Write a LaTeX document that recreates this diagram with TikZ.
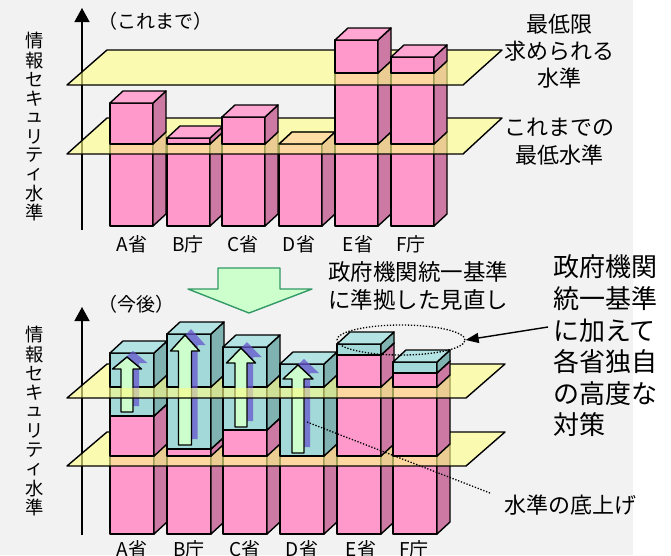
\documentclass[tikz,border=0pt]{standalone}
\usepackage{fontspec}
\setmainfont{Noto Sans CJK JP}
\usetikzlibrary{arrows.meta,shapes.geometric}
\definecolor{pkF}{HTML}{FF99CC}
\definecolor{pkS}{HTML}{CC7AA3}
\definecolor{pkT}{HTML}{FFA6D3}
\definecolor{tlF}{HTML}{A3D9D9}
\definecolor{tlS}{HTML}{80B2B2}
\definecolor{tlT}{HTML}{B3E3E3}
\definecolor{grA}{HTML}{CCFFCC}
\definecolor{grL}{HTML}{339966}
\definecolor{plY}{HTML}{FFFF88}
\definecolor{prp}{HTML}{6655CC}
\definecolor{bgG}{HTML}{F2F2F2}
\def\dpx{13}\def\dpy{12}
\newcommand\blk[7]{%
  \filldraw[bx,fill=#5] (#1,#3) rectangle ({#1+#2},#4);
  \filldraw[bx,fill=#6] ({#1+#2},#3) -- ++(\dpx,-\dpy) -- ({#1+#2+\dpx},{#4-\dpy}) -- ({#1+#2},#4) -- cycle;
  \filldraw[bx,fill=#7] (#1,#4) -- ++(\dpx,-\dpy) -- ({#1+#2+\dpx},{#4-\dpy}) -- ({#1+#2},#4) -- cycle;
}
\newcommand\pk[4]{\blk{#1}{#2}{#3}{#4}{pkF}{pkS}{pkT}}
\newcommand\tl[4]{\blk{#1}{#2}{#3}{#4}{tlF}{tlS}{tlT}}
% cx, ybottom, ytip, yheadbase, shaft half width, head half width
\newcommand\uparr[6]{%
  \fill[prp,fill opacity=0.75] ({#1-#5+6},{#2-6}) -- ({#1-#5+6},{#4-6}) -- ({#1-#6+6},{#4-6}) -- ({#1+6},{#3-6}) -- ({#1+#6+6},{#4-6}) -- ({#1+#5+6},{#4-6}) -- ({#1+#5+6},{#2-6}) -- cycle;
  \filldraw[bx,fill=grA] ({#1-#5},#2) -- ({#1-#5},#4) -- ({#1-#6},#4) -- (#1,#3) -- ({#1+#6},#4) -- ({#1+#5},#4) -- ({#1+#5},#2) -- cycle;
}
\newcommand\allarrows{%
  \uparr{127}{412}{357}{369}{6}{14.5}
  \uparr{185}{445}{335}{351}{6.5}{14.5}
  \uparr{241}{427}{348}{363}{6}{14.5}
  \uparr{298}{453}{365}{379}{6}{15}
}
\begin{document}
\begin{tikzpicture}[x=1pt,y=-1pt,
  bx/.style={draw=black,line width=1.4pt,line join=round},
  pln/.style={draw=black,line width=1.4pt,line join=round,fill=plY,fill opacity=0.62},
  vch/.style={inner sep=0pt,font=\fontsize{18.3}{18.3}\selectfont},
  blab/.style={inner sep=0pt,font=\fontsize{19}{20}\selectfont},
  axis/.style={line width=1.4pt,-{Triangle[length=14pt,width=15pt]}},
  dots/.style={line width=1.3pt,dash pattern=on 1.3pt off 1.7pt}]
\useasboundingbox (0,0) rectangle (671,555);
\fill[bgG] (0,0) rectangle (633,555);
% ---------- top chart ----------
\coordinate (ax1b) at (82,230); \coordinate (ax1t) at (82,8);
\draw[axis] (ax1b) -- (ax1t);
\node[anchor=west,inner sep=0pt,font=\fontsize{19}{20}\selectfont] (t1) at (98,21) {（これまで）};
\foreach \c [count=\i from 0] in {情,報,セ,キ,ュ,リ,テ,ィ,水,準}
  {\node[vch] (va\i) at (35,{41+19.1*\i}) {\c};}
\foreach \x in {110,167,222,279,335,391} {\pk{\x}{43}{226}{144}}
\filldraw[pln] (67,154) -- (107,118) -- (502,118) -- (463,154) -- cycle;
\draw[bx] (279,144) -- ++(13,-12) -- ++(43,0) -- (322,144) -- cycle;
\pk{110}{43}{144}{103}
\pk{167}{43}{144}{138}
\pk{222}{43}{144}{117}
\pk{335}{43}{144}{73}
\pk{391}{43}{144}{73}
\filldraw[pln] (67,85) -- (107,50) -- (502,50) -- (463,85) -- cycle;
\pk{335}{43}{73}{40}
\pk{391}{43}{73}{57}
\node[blab] (la1) at (132,244) {A省};
\node[blab] (lb1) at (188,244) {B庁};
\node[blab] (lc1) at (243,244) {C省};
\node[blab] (ld1) at (299,244) {D省};
\node[blab] (le1) at (358,244) {E省};
\node[blab] (lf1) at (411,244) {F庁};
\node[align=center,inner sep=0pt,font=\fontsize{22}{27}\selectfont] (r1) at (559,51) {最低限\\求められる\\水準};
\node[align=center,inner sep=0pt,font=\fontsize{22}{28}\selectfont] (r2) at (559,142) {これまでの\\最低水準};
% ---------- big arrow ----------
\filldraw[fill=grA,draw=grL,line width=1.4pt,line join=round] (218,268) -- (280,268) -- (280,289) -- (312,289) -- (249,313) -- (188,289) -- (218,289) -- cycle;
\node[anchor=west,align=left,inner sep=0pt,font=\fontsize{22.5}{28}\selectfont] (m1) at (328,286) {政府機関統一基準\\に準拠した見直し};
% ---------- bottom chart ----------
\coordinate (ax2b) at (82,535); \coordinate (ax2t) at (82,307);
\draw[axis] (ax2b) -- (ax2t);
\node[anchor=west,inner sep=0pt,font=\fontsize{19}{20}\selectfont] (t2) at (98,304) {（今後）};
\foreach \c [count=\i from 0] in {情,報,セ,キ,ュ,リ,テ,ィ,水,準}
  {\node[vch] (vb\i) at (35,{335+19.2*\i}) {\c};}
\foreach \x in {110,167,223,280,337,393} {\pk{\x}{44}{534}{456}}
\filldraw[pln] (67,466) -- (107,432) -- (505,432) -- (466,466) -- cycle;
\pk{110}{44}{456}{416}\tl{110}{44}{416}{387}
\pk{167}{44}{456}{449}\tl{167}{44}{449}{387}
\pk{223}{44}{456}{430}\tl{223}{44}{430}{387}
\tl{280}{44}{456}{387}
\pk{337}{44}{456}{387}
\pk{393}{44}{456}{387}
\allarrows
\filldraw[pln] (67,398) -- (107,364) -- (505,364) -- (466,398) -- cycle;
\tl{110}{44}{387}{353}
\tl{167}{44}{387}{334}
\tl{223}{44}{387}{347}
\tl{280}{44}{387}{364}
\pk{337}{44}{387}{355}\tl{337}{44}{355}{344}
\pk{393}{44}{387}{373}\tl{393}{44}{373}{362}
\begin{scope}
\clip (0,0) rectangle (671,387);
\allarrows
\end{scope}
\node[blab] (la2) at (132,549) {A省};
\node[blab] (lb2) at (189,549) {B庁};
\node[blab] (lc2) at (245,549) {C省};
\node[blab] (ld2) at (302,549) {D省};
\node[blab] (le2) at (361,549) {E省};
\node[blab] (lf2) at (414,549) {F庁};
% ---------- annotations ----------
\node[draw,dots,ellipse,minimum width=128pt,minimum height=30pt,inner sep=0pt] (ell) at (401,340) {};
\node[anchor=west,align=left,inner sep=0pt,font=\fontsize{26}{31.6}\selectfont] (r3) at (553,346) {政府機関\\統一基準\\に加えて\\各省独自\\の高度な\\対策};
\coordinate (ptr) at (548,327);
\draw[line width=1.4pt,-{Triangle[length=13pt,width=10pt]}] (ptr) -- (ell.east);
\node[inner sep=0pt,font=\fontsize{22}{24}\selectfont] (r4) at (570,505) {水準の底上げ};
\coordinate (lift) at (307,422); \coordinate (liftE) at (490,493);
\draw[dots] (lift) -- (liftE);
\end{tikzpicture}
\end{document}
